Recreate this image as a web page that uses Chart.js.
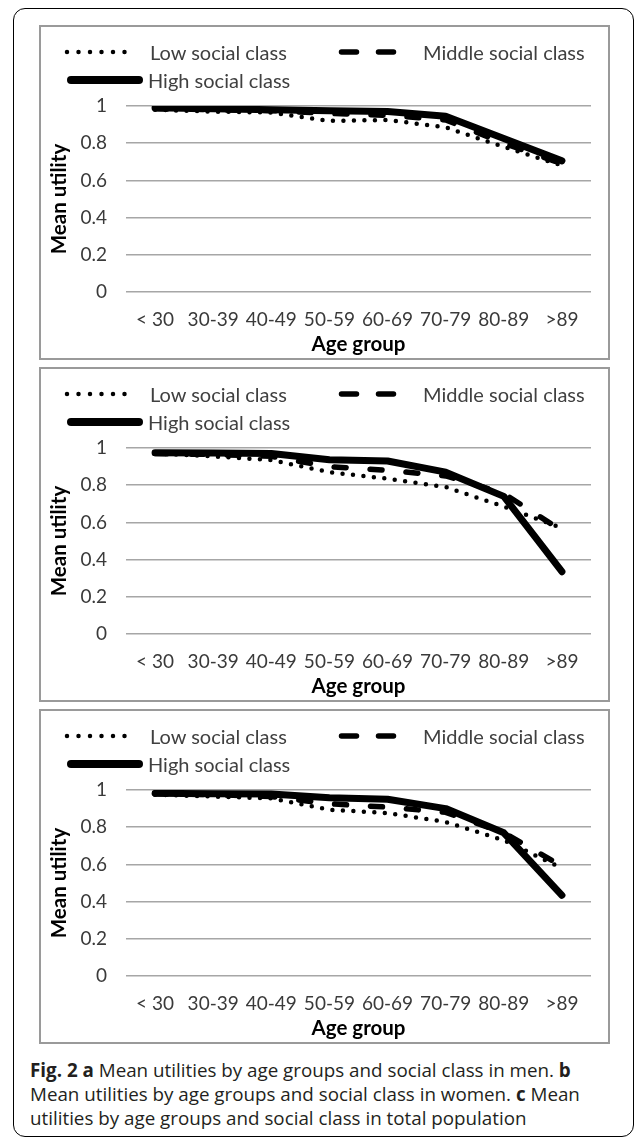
<!DOCTYPE html>
<html>
<head>
<meta charset="utf-8">
<script src="https://cdn.jsdelivr.net/npm/chart.js@4.4.0/dist/chart.umd.min.js"></script>
<style>
html,body{margin:0;padding:0;background:#fff;}
body{width:637px;height:1143px;position:relative;overflow:hidden;font-family:Lato,sans-serif;}
#outer{position:absolute;left:13px;top:8px;width:621px;height:1129px;box-sizing:border-box;border:1.5px solid #000;border-radius:12px;}
.panel{position:absolute;left:39px;width:571px;height:335px;box-sizing:border-box;border:2px solid #9a9a9a;background:#fff;}
.panel canvas{position:absolute;left:0;top:0;}
.panel svg{position:absolute;left:0;top:0;}
.leg{position:absolute;font-family:Lato,sans-serif;font-size:20px;line-height:24px;color:#404040;white-space:nowrap;}
#caption{position:absolute;left:30px;top:1058px;font-family:'Open Sans',sans-serif;font-size:18.8px;line-height:24px;color:#231f20;white-space:nowrap;}
#caption b{font-weight:bold;}
</style>
</head>
<body>
<div id="outer"></div>
<div id="panels"></div>
<div id="caption"><b>Fig. 2 a</b> Mean utilities by age groups and social class in men. <b>b</b><br>Mean utilities by age groups and social class in women. <b>c</b> Mean<br>utilities by age groups and social class in total population</div>
<script>
// ---- data ----
const categories = ['< 30', '30-39', '40-49', '50-59', '60-69', '70-79', '80-89', '>89'];
const yTickLabels = ['0', '0.2', '0.4', '0.6', '0.8', '1'];
const seriesNames = ['Low social class', 'Middle social class', 'High social class'];

const menLow    = [0.98, 0.97, 0.965, 0.92, 0.925, 0.885, 0.78, 0.68];
const menMiddle = [0.985, 0.98, 0.975, 0.96, 0.95, 0.925, 0.80, 0.69];
const menHigh   = [0.99, 0.985, 0.98, 0.975, 0.97, 0.945, 0.825, 0.705];

const womenLow    = [0.97, 0.955, 0.935, 0.87, 0.835, 0.79, 0.685, 0.57];
const womenMiddle = [0.97, 0.965, 0.955, 0.90, 0.88, 0.85, 0.755, 0.555];
const womenHigh   = [0.975, 0.973, 0.97, 0.937, 0.93, 0.87, 0.74, 0.335];

const totalLow    = [0.975, 0.965, 0.955, 0.894, 0.876, 0.828, 0.73, 0.58];
const totalMiddle = [0.98, 0.975, 0.965, 0.926, 0.908, 0.88, 0.77, 0.59];
const totalHigh   = [0.982, 0.98, 0.979, 0.958, 0.95, 0.90, 0.77, 0.434];

const panelData = [
  [menLow, menMiddle, menHigh],
  [womenLow, womenMiddle, womenHigh],
  [totalLow, totalMiddle, totalHigh]
];
const panelTops = [25, 367, 709];

// ---- build ----
const CW = 567, CH = 331;
function makePanel(idx) {
  const top = panelTops[idx];
  const div = document.createElement('div');
  div.className = 'panel';
  div.style.top = top + 'px';
  const canvas = document.createElement('canvas');
  canvas.width = CW; canvas.height = CH;
  canvas.style.width = CW + 'px'; canvas.style.height = CH + 'px';
  div.appendChild(canvas);
  // legend swatches
  const ns = 'http://www.w3.org/2000/svg';
  const svg = document.createElementNS(ns, 'svg');
  svg.setAttribute('width', CW); svg.setAttribute('height', 80);
  function line(x1, x2, y, w, dash) {
    const l = document.createElementNS(ns, 'line');
    l.setAttribute('x1', x1); l.setAttribute('x2', x2);
    l.setAttribute('y1', y); l.setAttribute('y2', y);
    l.setAttribute('stroke', '#000'); l.setAttribute('stroke-width', w);
    l.setAttribute('stroke-linecap', 'round');
    if (dash) l.setAttribute('stroke-dasharray', dash);
    svg.appendChild(l);
  }
  line(26, 95, 25, 4.5, '0 11.5');
  line(300.5, 352.5, 25, 5.5, '15 22');
  line(30, 98, 53, 8, null);
  div.appendChild(svg);
  function text(t, x, yc) {
    const s = document.createElement('span');
    s.className = 'leg'; s.textContent = t;
    s.style.left = x + 'px'; s.style.top = (yc - 12) + 'px';
    div.appendChild(s);
  }
  text(seriesNames[0], 109, 25);
  text(seriesNames[1], 382, 25);
  text(seriesNames[2], 107, 53);
  document.getElementById('panels').appendChild(div);

  const d = panelData[idx];
  new Chart(canvas.getContext('2d'), {
    type: 'line',
    data: {
      labels: categories,
      datasets: [
        { label: seriesNames[0], data: d[0], borderColor: '#000', borderWidth: 4.5,
          borderDash: [0, 10.5], borderCapStyle: 'round', borderJoinStyle: 'round',
          pointRadius: 0, tension: 0, fill: false, order: 2 },
        { label: seriesNames[1], data: d[1], borderColor: '#000', borderWidth: 5.5,
          borderDash: [12, 24], borderCapStyle: 'round', borderJoinStyle: 'round',
          pointRadius: 0, tension: 0, fill: false, order: 1 },
        { label: seriesNames[2], data: d[2], borderColor: '#000', borderWidth: 7,
          borderCapStyle: 'round', borderJoinStyle: 'round',
          pointRadius: 0, tension: 0, fill: false, order: 0 }
      ]
    },
    options: {
      responsive: false, animation: false, devicePixelRatio: 1,
      layout: { padding: { left: 0, right: 17, top: 79, bottom: 0 } },
      plugins: { legend: { display: false }, tooltip: { enabled: false } },
      scales: {
        x: {
          offset: true,
          grid: { display: false, drawTicks: false },
          border: { display: false },
          ticks: { color: '#3a3a3a', font: { family: 'Lato', size: 19 }, padding: 16,
                   maxRotation: 0, autoSkip: false },
          title: { display: true, text: 'Age group', color: '#000',
                   font: { family: 'Lato', size: 20.5, weight: 'bold' },
                   padding: { top: 0, bottom: 1 } },
          afterFit(s) { s.height = 66; }
        },
        y: {
          min: 0, max: 1,
          ticks: { stepSize: 0.2, callback: (v, i) => yTickLabels[i],
                   color: '#3a3a3a', font: { family: 'Lato', size: 19 }, padding: 19 },
          grid: { color: '#a6a6a6', lineWidth: 1.5, drawTicks: false },
          border: { display: false },
          title: { display: true, text: 'Mean utility', color: '#000',
                   font: { family: 'Lato', size: 20.5, weight: 'bold' },
                   padding: { top: 6, bottom: 0 } },
          afterFit(s) { s.width = 85; }
        }
      }
    }
  });
}

Promise.all([
  document.fonts.load('18px Lato'),
  document.fonts.load('bold 20px Lato'),
  document.fonts.load('17px "Open Sans"'),
  document.fonts.load('bold 17px "Open Sans"')
]).catch(() => {}).then(() => {
  for (let i = 0; i < 3; i++) makePanel(i);
});
</script>
</body>
</html>
